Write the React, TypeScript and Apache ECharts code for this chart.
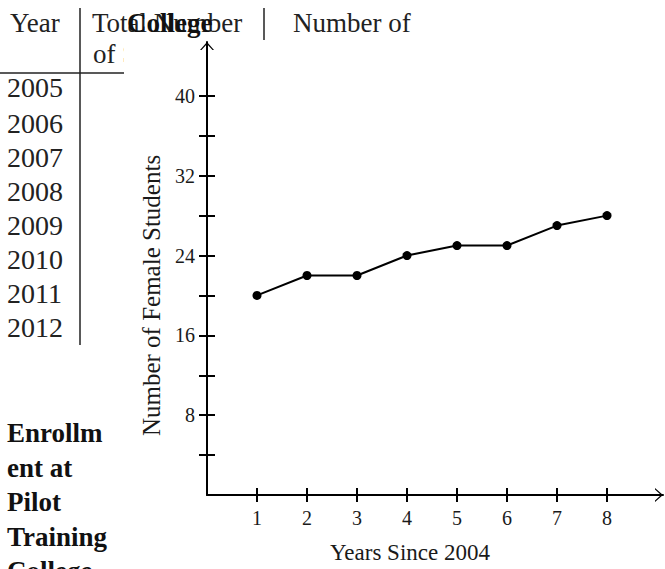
import React, { useEffect, useRef } from "react";
import * as echarts from "echarts";

// Chart data
const yearsSince2004 = [1, 2, 3, 4, 5, 6, 7, 8];
const femaleStudents = [20, 22, 22, 24, 25, 25, 27, 28];
const yTickValues = [4, 8, 12, 16, 20, 24, 28, 32, 36, 40];
const yLabelValues = [8, 16, 24, 32, 40];
const xTickValues = [1, 2, 3, 4, 5, 6, 7, 8];

// Table (background) texts
const tableYears = ["2005", "2006", "2007", "2008", "2009", "2010", "2011", "2012"];
const tableYearCenters = [87, 123, 157, 191, 225, 259, 293, 327];
const sideTitleLines = ["Enrollm", "ent at", "Pilot", "Training", "College"];

const SERIF = "'Liberation Serif', 'Times New Roman', serif";
const ARROW = "path://M0,16 L14,0 L28,16 L25,16 L14,4 L3,16 Z";

export default function App() {
  const ref = useRef<HTMLDivElement>(null);

  useEffect(() => {
    document.body.style.margin = "0";
    if (!ref.current) return;
    const chart = echarts.init(ref.current, undefined, { renderer: "svg" });

    const axisColor = "#000";
    const textColor = "#1a1a1a";

    const graphic: any[] = [];
    // table lines
    graphic.push({ type: "line", z: -2, shape: { x1: 80, y1: 8, x2: 80, y2: 345 }, style: { stroke: "#222", lineWidth: 1.5 } });
    graphic.push({ type: "line", z: -2, shape: { x1: 0, y1: 73, x2: 124, y2: 73 }, style: { stroke: "#222", lineWidth: 1.5 } });
    graphic.push({ type: "line", z: -2, shape: { x1: 264, y1: 8, x2: 264, y2: 40 }, style: { stroke: "#222", lineWidth: 1.5 } });
    // table header texts
    const hdr = (text: string, x: number, y: number, size = 27) => ({
      type: "text", z: -2, x, y,
      style: { text, fill: "#222", font: `${size}px ${SERIF}`, verticalAlign: "middle", align: "left" },
    });
    graphic.push(hdr("Year", 10, 22.5));
    graphic.push(hdr("Total Number", 92, 22.5));
    graphic.push(hdr("Number of", 293, 22.5));
    graphic.push(hdr("of S", 93, 54));
    tableYears.forEach((yr, i) => graphic.push(hdr(yr, 7, tableYearCenters[i], 28)));
    // white cover for the cut character
    graphic.push({ type: "rect", z: -1, shape: { x: 124, y: 40, width: 70, height: 30 }, style: { fill: "#fff" } });
    // side bold title
    sideTitleLines.forEach((t, i) =>
      graphic.push({
        type: "text", z: 5, x: 7, y: 433 + i * 34.5,
        style: { text: t, fill: "#111", font: `bold 27px ${SERIF}`, verticalAlign: "middle", align: "left" },
      })
    );
    // "College" overlay title
    graphic.push({
      type: "text", z: 10, x: 127, y: 22.5,
      style: { text: "College", fill: "#111", font: `bold 27px ${SERIF}`, verticalAlign: "middle", align: "left" },
    });

    const commonAxisLine = {
      show: true,
      onZero: false,
      lineStyle: { color: axisColor, width: 2 },
      symbol: ["none", ARROW],
      symbolSize: [15, 8],
      symbolOffset: [0, -4],
    };

    chart.setOption({
      animation: false,
      backgroundColor: "#fff",
      grid: { left: 207, right: 2, top: 42, bottom: 73, containLabel: false },
      graphic,
      xAxis: [
        {
          type: "value",
          min: 0,
          max: 9.12,
          position: "bottom",
          axisLine: commonAxisLine,
          axisTick: { show: true, length: 7, inside: false, customValues: xTickValues, lineStyle: { color: axisColor, width: 2 } },
          axisLabel: { show: true, customValues: xTickValues, margin: 13, color: textColor, fontSize: 20, fontFamily: SERIF },
          splitLine: { show: false },
          name: "Years Since 2004",
          nameLocation: "middle",
          nameGap: 46,
          nameTextStyle: { color: textColor, fontSize: 23, fontFamily: SERIF, padding: [0, 50, 0, 0] },
        },
        {
          type: "value",
          min: 0,
          max: 9.12,
          position: "bottom",
          axisLine: { show: false, onZero: false },
          axisTick: { show: true, length: 7, inside: true, customValues: xTickValues, lineStyle: { color: axisColor, width: 2 } },
          axisLabel: { show: false },
          splitLine: { show: false },
        },
      ],
      yAxis: [
        {
          type: "value",
          min: 0,
          max: 45.4,
          position: "left",
          axisLine: commonAxisLine,
          axisTick: { show: true, length: 8, inside: false, customValues: yTickValues, lineStyle: { color: axisColor, width: 2 } },
          axisLabel: { show: true, customValues: yLabelValues, margin: 12, color: textColor, fontSize: 20, fontFamily: SERIF },
          splitLine: { show: false },
          name: "Number of Female Students",
          nameLocation: "middle",
          nameGap: 40,
          nameRotate: 90,
          nameTextStyle: { color: textColor, fontSize: 25, fontFamily: SERIF, padding: [0, 54, 0, 0] },
        },
        {
          type: "value",
          min: 0,
          max: 45.4,
          position: "left",
          axisLine: { show: false, onZero: false },
          axisTick: { show: true, length: 8, inside: true, customValues: yTickValues, lineStyle: { color: axisColor, width: 2 } },
          axisLabel: { show: false },
          splitLine: { show: false },
        },
      ],
      series: [
        {
          type: "line",
          xAxisIndex: 0,
          yAxisIndex: 0,
          data: yearsSince2004.map((x, i) => [x, femaleStudents[i]]),
          symbol: "circle",
          symbolSize: 9,
          itemStyle: { color: "#000" },
          lineStyle: { color: "#000", width: 2 },
          z: 3,
        },
      ],
    });

    return () => chart.dispose();
  }, []);

  return <div ref={ref} style={{ width: 665, height: 569 }} />;
}
